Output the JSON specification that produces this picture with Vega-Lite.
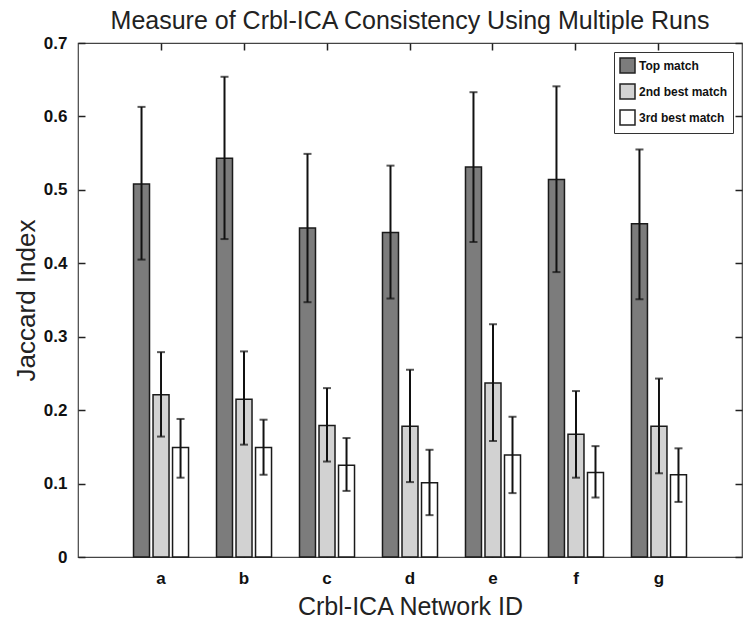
{
  "$schema": "https://vega.github.io/schema/vega-lite/v6.json",
  "autosize": {"type": "none"},
  "width": 664,
  "height": 514,
  "padding": {"left": 78, "top": 43, "right": 8, "bottom": 68},
  "background": "white",
  "title": {
    "text": "Measure of Crbl-ICA Consistency Using Multiple Runs",
    "font": "Liberation Sans",
    "fontSize": 25,
    "fontWeight": "normal",
    "color": "#222",
    "anchor": "middle",
    "frame": "group",
    "offset": 0
  },
  "config": {
    "view": {"stroke": "#444", "strokeWidth": 1.2},
    "axis": {
      "domain": false,
      "grid": false,
      "ticks": true,
      "zindex": 1,
      "offset": -7,
      "labelFont": "Liberation Sans",
      "labelFontWeight": "bold",
      "labelFontSize": 17,
      "labelColor": "#111",
      "tickColor": "#222",
      "tickSize": 7,
      "tickWidth": 1.5,
      "tickOpacity": 1,
      "titleFont": "Liberation Sans",
      "titleFontWeight": "normal",
      "titleFontSize": 25,
      "titleColor": "#222"
    },
    "legend": {
      "orient": "top-right",
      "offset": 9,
      "strokeColor": "#333",
      "fillColor": "white",
      "padding": 5,
      "symbolType": "square",
      "symbolSize": 225,
      "symbolStrokeColor": "#222",
      "symbolStrokeWidth": 1.5,
      "labelFont": "Liberation Sans",
      "labelFontSize": 12,
      "labelFontWeight": "bold",
      "labelColor": "#111",
      "rowPadding": 5,
      "labelOffset": 3
    }
  },
  "data": {
    "values": [
      {"id": "a", "match": "Top match", "value": 0.508, "lo": 0.405, "hi": 0.613},
      {"id": "a", "match": "2nd best match", "value": 0.221, "lo": 0.164, "hi": 0.279},
      {"id": "a", "match": "3rd best match", "value": 0.149, "lo": 0.108, "hi": 0.188},
      {"id": "b", "match": "Top match", "value": 0.543, "lo": 0.433, "hi": 0.654},
      {"id": "b", "match": "2nd best match", "value": 0.215, "lo": 0.153, "hi": 0.280},
      {"id": "b", "match": "3rd best match", "value": 0.149, "lo": 0.112, "hi": 0.187},
      {"id": "c", "match": "Top match", "value": 0.448, "lo": 0.347, "hi": 0.549},
      {"id": "c", "match": "2nd best match", "value": 0.179, "lo": 0.130, "hi": 0.230},
      {"id": "c", "match": "3rd best match", "value": 0.125, "lo": 0.090, "hi": 0.162},
      {"id": "d", "match": "Top match", "value": 0.442, "lo": 0.352, "hi": 0.533},
      {"id": "d", "match": "2nd best match", "value": 0.178, "lo": 0.102, "hi": 0.255},
      {"id": "d", "match": "3rd best match", "value": 0.101, "lo": 0.057, "hi": 0.146},
      {"id": "e", "match": "Top match", "value": 0.531, "lo": 0.429, "hi": 0.633},
      {"id": "e", "match": "2nd best match", "value": 0.237, "lo": 0.158, "hi": 0.317},
      {"id": "e", "match": "3rd best match", "value": 0.139, "lo": 0.087, "hi": 0.191},
      {"id": "f", "match": "Top match", "value": 0.514, "lo": 0.388, "hi": 0.641},
      {"id": "f", "match": "2nd best match", "value": 0.167, "lo": 0.108, "hi": 0.226},
      {"id": "f", "match": "3rd best match", "value": 0.115, "lo": 0.081, "hi": 0.151},
      {"id": "g", "match": "Top match", "value": 0.454, "lo": 0.351, "hi": 0.555},
      {"id": "g", "match": "2nd best match", "value": 0.178, "lo": 0.114, "hi": 0.243},
      {"id": "g", "match": "3rd best match", "value": 0.112, "lo": 0.075, "hi": 0.148}
    ]
  },
  "layer": [
    {
      "mark": {"type": "bar", "stroke": "#1a1a1a", "strokeWidth": 1.5},
      "encoding": {
        "x": {
          "field": "id",
          "type": "nominal",
          "scale": {"paddingInner": 0.337, "paddingOuter": 0.669},
          "axis": {"title": "Crbl-ICA Network ID", "labelAngle": 0, "labelPadding": 13, "titlePadding": 8, "zindex": 0}
        },
        "xOffset": {
          "field": "match",
          "type": "nominal",
          "scale": {"domain": ["Top match", "2nd best match", "3rd best match"], "paddingInner": 0.18, "paddingOuter": 0}
        },
        "y": {
          "field": "value",
          "type": "quantitative",
          "scale": {"domain": [0, 0.7], "nice": false, "zero": true},
          "axis": {"title": "Jaccard Index", "values": [0, 0.1, 0.2, 0.3, 0.4, 0.5, 0.6, 0.7], "format": ".1~f", "labelPadding": 11, "titlePadding": 4, "titleFontSize": 26}
        },
        "fill": {
          "field": "match",
          "type": "nominal",
          "scale": {"domain": ["Top match", "2nd best match", "3rd best match"], "range": ["#7c7c7c", "#d2d2d2", "#ffffff"]},
          "legend": {"title": null}
        }
      }
    },
    {
      "mark": {"type": "rule", "color": "#111", "strokeWidth": 2},
      "encoding": {
        "x": {"field": "id", "type": "nominal", "axis": {"orient": "top", "labels": false, "title": null, "ticks": true}},
        "xOffset": {"field": "match", "type": "nominal"},
        "y": {"field": "lo", "type": "quantitative", "axis": {"orient": "right", "labels": false, "title": null, "ticks": true, "values": [0, 0.1, 0.2, 0.3, 0.4, 0.5, 0.6, 0.7]}},
        "y2": {"field": "hi"}
      }
    },
    {
      "mark": {"type": "tick", "color": "#111", "size": 8, "thickness": 2},
      "encoding": {
        "x": {"field": "id", "type": "nominal", "axis": null},
        "xOffset": {"field": "match", "type": "nominal"},
        "y": {"field": "lo", "type": "quantitative", "axis": null}
      }
    },
    {
      "mark": {"type": "tick", "color": "#111", "size": 8, "thickness": 2},
      "encoding": {
        "x": {"field": "id", "type": "nominal", "axis": null},
        "xOffset": {"field": "match", "type": "nominal"},
        "y": {"field": "hi", "type": "quantitative", "axis": null}
      }
    }
  ],
  "resolve": {"axis": {"x": "independent", "y": "independent"}}
}
